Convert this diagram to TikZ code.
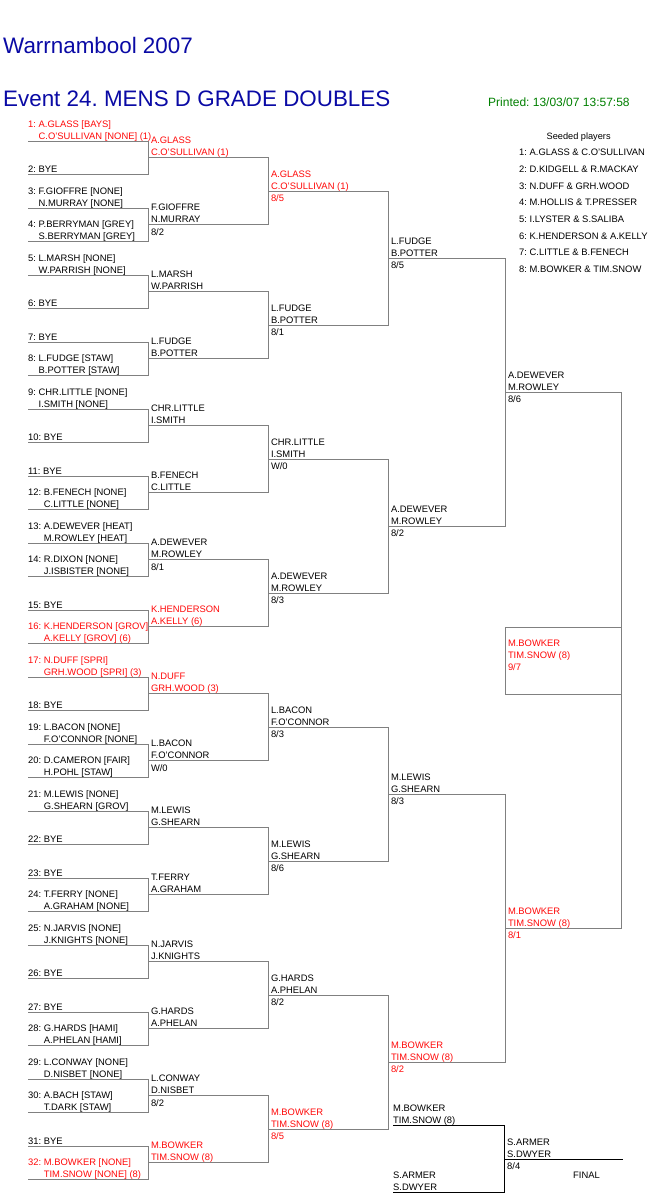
\documentclass[tikz,border=0pt]{standalone}
\usepackage{fontspec}
\setmainfont{Liberation Sans}
\usepackage{tikz}
\frenchspacing
\definecolor{titleblue}{RGB}{10,10,165}
\definecolor{printgreen}{RGB}{0,128,0}
\definecolor{winred}{RGB}{255,10,10}
\definecolor{bracketgrey}{RGB}{128,128,128}
\def\brfont{\fontsize{9.4bp}{11bp}\selectfont}
\def\bigfont{\fontsize{22.4bp}{26bp}\selectfont}
\tikzset{
  bline/.style={draw=bracketgrey, line width=1bp, line cap=rect},
  pline/.style={draw=black, line width=1bp, line cap=rect},
  txt/.style={anchor=base west, inner sep=0pt, font=\brfont},
}

\begin{document}
\begin{tikzpicture}[x=1bp,y=-1bp]
			%%%%% START %%%%%
			\useasboundingbox[fill=white] (0,0) rectangle (661,1196);
			
			\node[txt, font=\bigfont, text=titleblue] (title) at (3,53.3) {Warrnambool 2007};
			\node[txt, font=\bigfont, text=titleblue] (event) at (3,106.7) {Event 24. MENS D GRADE DOUBLES};
			\node[txt, font=\fontsize{12bp}{14bp}\selectfont, text=printgreen] (printed) at (488,106) {Printed: 13/03/07 13:57:58};
			
			\node[txt, font=\fontsize{9.2bp}{11bp}\selectfont] (seedhead) at (546.5,139) {Seeded players};
			\foreach \k/\s in {1/{A.GLASS \& C.O'SULLIVAN}, 2/{D.KIDGELL \& R.MACKAY}, 3/{N.DUFF \& GRH.WOOD},
				4/{M.HOLLIS \& T.PRESSER}, 5/{I.LYSTER \& S.SALIBA}, 6/{K.HENDERSON \& A.KELLY},
				7/{C.LITTLE \& B.FENECH}, 8/{M.BOWKER \& TIM.SNOW}}
				\node[txt] (seed\k) at (519,139+16.7*\k) {\k: \s};
			
			% bracket lines, round by round
			\foreach \r/\xa/\xb/\n in {1/28/148/32, 2/148/268/16, 3/268/388/8, 4/388/505/4, 5/505/621/2}{
				\pgfmathsetmacro\gap{33.5*2^(\r-1)}
				\pgfmathsetmacro\yo{107.7+33.5*(2^(\r-1)+1)/2}
				\foreach \j in {1,...,\n}
					\draw[bline] (\xa,\yo+\gap*\j-\gap) -- (\xb,\yo+\gap*\j-\gap);
				\pgfmathtruncatemacro\m{\n/2}
				\foreach \k in {1,...,\m}
					\draw[bline] (\xb,\yo+2*\gap*\k-2*\gap) -- (\xb,\yo+2*\gap*\k-\gap);
			}
			\draw[bline] (505,627.3) rectangle (621,694.3);
			
			% plate match
			\draw[pline] (393,1125.7) -- (504,1125.7) -- (504,1192.3) -- (393,1192.3);
			\draw[pline] (504,1159.3) -- (622.7,1159.3);
			
			% first round
			\foreach \i/\c/\p/\q in {1/winred/{A.GLASS [BAYS]}/{C.O'SULLIVAN [NONE] (1)},
				3/black/{F.GIOFFRE [NONE]}/{N.MURRAY [NONE]}, 4/black/{P.BERRYMAN [GREY]}/{S.BERRYMAN [GREY]},
				5/black/{L.MARSH [NONE]}/{W.PARRISH [NONE]}, 8/black/{L.FUDGE [STAW]}/{B.POTTER [STAW]},
				9/black/{CHR.LITTLE [NONE]}/{I.SMITH [NONE]}, 12/black/{B.FENECH [NONE]}/{C.LITTLE [NONE]},
				13/black/{A.DEWEVER [HEAT]}/{M.ROWLEY [HEAT]}, 14/black/{R.DIXON [NONE]}/{J.ISBISTER [NONE]},
				16/winred/{K.HENDERSON [GROV]}/{A.KELLY [GROV] (6)}, 17/winred/{N.DUFF [SPRI]}/{GRH.WOOD [SPRI] (3)},
				19/black/{L.BACON [NONE]}/{F.O'CONNOR [NONE]}, 20/black/{D.CAMERON [FAIR]}/{H.POHL [STAW]},
				21/black/{M.LEWIS [NONE]}/{G.SHEARN [GROV]}, 24/black/{T.FERRY [NONE]}/{A.GRAHAM [NONE]},
				25/black/{N.JARVIS [NONE]}/{J.KNIGHTS [NONE]}, 28/black/{G.HARDS [HAMI]}/{A.PHELAN [HAMI]},
				29/black/{L.CONWAY [NONE]}/{D.NISBET [NONE]}, 30/black/{A.BACH [STAW]}/{T.DARK [STAW]},
				32/winred/{M.BOWKER [NONE]}/{TIM.SNOW [NONE] (8)}}{
				\node[txt, text=\c] (p\i) at (28,93.7+33.5*\i) {\i: \p};
				\node[txt, text=\c] (q\i) at (28,105.5+33.5*\i) {\phantom{\i: }\q};
			}
			\foreach \i in {2,6,7,10,11,15,18,22,23,26,27,31}
				\node[txt] (q\i) at (28,105.5+33.5*\i) {\i: BYE};
			
			% later rounds: round/slot/colour/names
			\foreach \r/\j/\c/\p/\q in {2/1/winred/A.GLASS/{C.O'SULLIVAN (1)}, 2/2/black/F.GIOFFRE/N.MURRAY,
				2/3/black/L.MARSH/W.PARRISH, 2/4/black/L.FUDGE/B.POTTER, 2/5/black/CHR.LITTLE/I.SMITH,
				2/6/black/B.FENECH/C.LITTLE, 2/7/black/A.DEWEVER/M.ROWLEY, 2/8/winred/K.HENDERSON/{A.KELLY (6)},
				2/9/winred/N.DUFF/{GRH.WOOD (3)}, 2/10/black/L.BACON/F.O'CONNOR, 2/11/black/M.LEWIS/G.SHEARN,
				2/12/black/T.FERRY/A.GRAHAM, 2/13/black/N.JARVIS/J.KNIGHTS, 2/14/black/G.HARDS/A.PHELAN,
				2/15/black/L.CONWAY/D.NISBET, 2/16/winred/M.BOWKER/{TIM.SNOW (8)},
				3/1/winred/A.GLASS/{C.O'SULLIVAN (1)}, 3/2/black/L.FUDGE/B.POTTER, 3/3/black/CHR.LITTLE/I.SMITH,
				3/4/black/A.DEWEVER/M.ROWLEY, 3/5/black/L.BACON/F.O'CONNOR, 3/6/black/M.LEWIS/G.SHEARN,
				3/7/black/G.HARDS/A.PHELAN, 3/8/winred/M.BOWKER/{TIM.SNOW (8)},
				4/1/black/L.FUDGE/B.POTTER, 4/2/black/A.DEWEVER/M.ROWLEY, 4/3/black/M.LEWIS/G.SHEARN,
				4/4/winred/M.BOWKER/{TIM.SNOW (8)},
				5/1/black/A.DEWEVER/M.ROWLEY, 5/2/winred/M.BOWKER/{TIM.SNOW (8)},
				6/1/winred/M.BOWKER/{TIM.SNOW (8)}}{
				\pgfmathsetmacro\xx{{28,148,268,388,505,505}[\r-1]+2.8}
				\pgfmathsetmacro\yy{107.7+33.5*(2^(\r-1)+1)/2+33.5*2^(\r-1)*(\j-1)}
				\node[txt, text=\c] (w\r-\j-a) at (\xx,\yy-14) {\p};
				\node[txt, text=\c] (w\r-\j-b) at (\xx,\yy-2.2) {\q};
			}
			% scores
			\foreach \r/\j/\c/\s in {2/2/black/{8/2}, 2/7/black/{8/1}, 2/10/black/{W/0}, 2/15/black/{8/2},
				3/1/winred/{8/5}, 3/2/black/{8/1}, 3/3/black/{W/0}, 3/4/black/{8/3}, 3/5/black/{8/3},
				3/6/black/{8/6}, 3/7/black/{8/2}, 3/8/winred/{8/5},
				4/1/black/{8/5}, 4/2/black/{8/2}, 4/3/black/{8/3}, 4/4/winred/{8/2},
				5/1/black/{8/6}, 5/2/winred/{8/1}, 6/1/winred/{9/7}}{
				\pgfmathsetmacro\xx{{28,148,268,388,505,505}[\r-1]+2.8}
				\pgfmathsetmacro\yy{107.7+33.5*(2^(\r-1)+1)/2+33.5*2^(\r-1)*(\j-1)}
				\node[txt, text=\c] (s\r-\j) at (\xx,\yy+10.5) {\s};
			}
			
			\node[txt] (pa) at (393,1111.7) {M.BOWKER};
			\node[txt] (pb) at (393,1123.5) {TIM.SNOW (8)};
			\node[txt] (pc) at (393,1178.3) {S.ARMER};
			\node[txt] (pd) at (393,1190.1) {S.DWYER};
			\node[txt] (pe) at (507,1145.3) {S.ARMER};
			\node[txt] (pf) at (507,1157.1) {S.DWYER};
			\node[txt] (pg) at (507,1169.8) {8/4};
			\node[txt] (final) at (573,1178.4) {FINAL};
			%%%%% END %%%%%
\end{tikzpicture}
\end{document}
